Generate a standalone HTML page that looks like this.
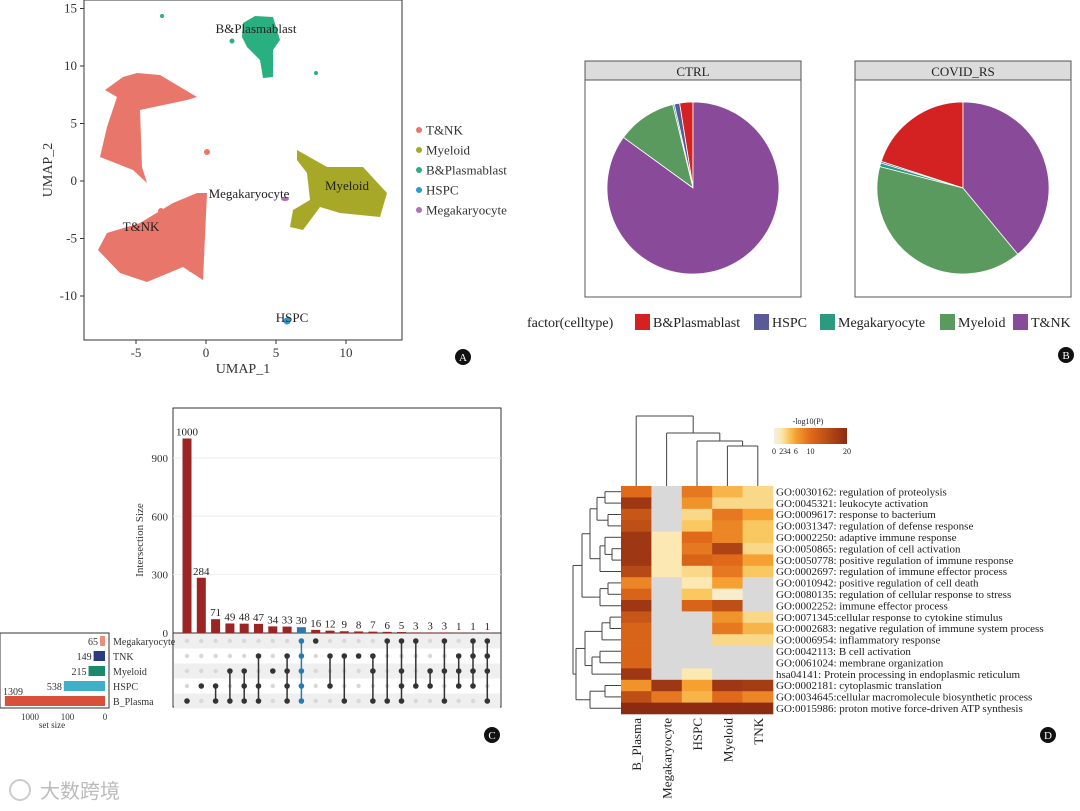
<!DOCTYPE html>
<html><head><meta charset="utf-8"><style>
body{margin:0;background:#fff;}
svg{display:block;font-family:"Liberation Serif","Noto Serif CJK SC",serif;}
</style></head><body>
<svg id="fig" width="1080" height="811" viewBox="0 0 1080 811">
<!-- PANEL A -->
<g>
<rect x="84" y="0" width="318" height="340" fill="none" stroke="#333" stroke-width="1"/>
<path d="M137 73 L160 75 L197 97 L187 100 L140 110 L142 167 L147 183 L133 170 L100 157 L107 127 L117 97 L105 90 L123 77 Z" fill="#e8766a"/>
<path d="M207 193 L203 280 L183 267 L147 282 L120 273 L98 250 L107 233 L140 223 L173 203 L197 193 Z" fill="#e8766a"/>
<path d="M297 150 L327 167 L363 167 L387 193 L380 217 L340 213 L320 207 L303 230 L290 227 L293 210 L310 200 L307 173 L297 160 Z" fill="#a8a828"/>
<path d="M243 23 L255 16 L273 17 L280 40 L273 50 L273 77 L263 78 L260 60 L247 47 L242 37 Z" fill="#2ab080"/>
<circle cx="287" cy="321" r="3.5" fill="#2a9ad0"/>
<ellipse cx="285" cy="199" rx="4" ry="2" fill="#b070b8"/>
<circle cx="207" cy="152" r="3" fill="#e8766a"/><circle cx="191" cy="269" r="3" fill="#e8766a"/><circle cx="161" cy="211" r="3" fill="#e8766a"/>
<circle cx="162" cy="16" r="2" fill="#2ab080"/><circle cx="232" cy="41" r="2.5" fill="#2ab080"/><circle cx="316" cy="73" r="2" fill="#2ab080"/>
<g font-size="13" fill="#222">
<text x="256" y="33" text-anchor="middle">B&amp;Plasmablast</text>
<text x="347" y="190" text-anchor="middle">Myeloid</text>
<text x="249" y="198" text-anchor="middle">Megakaryocyte</text>
<text x="141" y="231" text-anchor="middle">T&amp;NK</text>
<text x="292" y="322" text-anchor="middle">HSPC</text>
</g>
<g id="umapAxes" font-size="13" fill="#333"></g>
<text x="243" y="373" font-size="14" text-anchor="middle" fill="#333">UMAP_1</text>
<text x="0" y="0" font-size="14" text-anchor="middle" fill="#333" transform="translate(52,170) rotate(-90)">UMAP_2</text>
<g id="umapLegend" font-size="13" fill="#333"></g>
<circle cx="463" cy="357" r="8" fill="#111"/><text x="463" y="361" fill="#fff" font-size="11" text-anchor="middle">A</text>
</g>
<g id="pies"></g>
<g id="upset"></g>
<g id="heat"></g>
<text x="40" y="798" font-size="20" fill="#bbb" font-family="'Liberation Sans','Noto Sans CJK SC',sans-serif">大数跨境</text>
<circle cx="20" cy="790" r="10" fill="none" stroke="#ccc" stroke-width="2"/>
</svg>
<script>
const NS='http://www.w3.org/2000/svg';
function el(tag,attrs,parent,txt){const e=document.createElementNS(NS,tag);for(const k in attrs)e.setAttribute(k,attrs[k]);if(txt!==undefined)e.textContent=txt;parent.appendChild(e);return e;}

// ---------- Panel A axes ----------
const umapXTicks=[-5,0,5,10];
const umapYTicks=[15,10,5,0,-5,-10];
const umapLegendNames=['T&NK','Myeloid','B&Plasmablast','HSPC','Megakaryocyte'];
const umapLegendColors=['#e8766a','#a8a828','#2ab080','#2a9ad0','#b070b8'];
const ux=v=>206+14*v, uy=v=>181-11.5*v;
const ua=document.getElementById('umapAxes');
umapXTicks.forEach(t=>{el('line',{x1:ux(t),x2:ux(t),y1:340,y2:344,stroke:'#333'},ua);
 const tx=el('text',{x:ux(t),y:357,'text-anchor':'middle'},ua,String(t));
 
 });
umapYTicks.forEach(t=>{el('line',{x1:80,x2:84,y1:uy(t),y2:uy(t),stroke:'#333'},ua);
 const tx=el('text',{x:77,y:uy(t)+4,'text-anchor':'end'},ua,String(t));
 
 });
const ul=document.getElementById('umapLegend');
umapLegendNames.forEach((n,i)=>{const g=el('g',{},ul);
 
 
 el('circle',{cx:419,cy:130+20*i,r:3,fill:umapLegendColors[i]},g);
 el('text',{x:426,y:134.5+20*i},g,n);});

// ---------- Panel B pies ----------
const pieCats=['B&Plasmablast','HSPC','Megakaryocyte','Myeloid','T&NK'];
const pieColors=['#d42222','#5a5a96','#2a9a80','#5a9a5e','#8a4a9a'];
const ctrlVals=[2.5,1.0,0.3,11.2,85.0];
const covidVals=[20.0,0.3,0.7,40.0,39.0];
const pg=document.getElementById('pies');
function pie(cx,title,vals,name){
 const bx=cx-108;
 const g=el('g',{},pg);
 
 
 el('rect',{x:bx,y:80,width:216,height:217,fill:'#fff',stroke:'#555'},g);
 el('rect',{x:bx,y:61,width:216,height:19,fill:'#dcdcdc',stroke:'#555'},g);
 el('text',{x:cx,y:76,'text-anchor':'middle','font-size':13,fill:'#222'},g,title);
 const tot=vals.reduce((a,b)=>a+b,0); const cy=188,r=86; let a=0;
 vals.forEach((v,i)=>{const a0=a,a1=a+v/tot*2*Math.PI; a=a1;
  const p0=[cx-r*Math.sin(a0),cy-r*Math.cos(a0)],p1=[cx-r*Math.sin(a1),cy-r*Math.cos(a1)];
  const large=(a1-a0)>Math.PI?1:0;
  const s=el('path',{d:`M${cx} ${cy} L${p0[0]} ${p0[1]} A${r} ${r} 0 ${large} 0 ${p1[0]} ${p1[1]} Z`,fill:pieColors[i],stroke:'#fff','stroke-width':0.8},g);
  
  });
}
pie(693,'CTRL',ctrlVals,'pie-ctrl');
pie(963,'COVID_RS',covidVals,'pie-covid-rs');
const lgB=el('g',{'font-size':14,fill:'#222'},pg);


el('text',{x:527,y:327},lgB,'factor(celltype)');
const lgX=[635,754,820,940,1013];
pieCats.forEach((c,i)=>{el('rect',{x:lgX[i],y:314,width:15,height:16,fill:pieColors[i]},lgB);
 el('text',{x:lgX[i]+18,y:327},lgB,c);});
el('circle',{cx:1066,cy:355,r:8,fill:'#111'},pg);el('text',{x:1066,y:359,fill:'#fff','font-size':11,'text-anchor':'middle'},pg,'B');

// ---------- Panel C upset ----------
const intersectionSizes=[1000,284,71,49,48,47,34,33,30,16,12,9,8,7,6,5,3,3,3,1,1,1];
const intersectionSets=[[4],[3],[3,4],[2,4],[2,3,4],[1,3,4],[2],[1,2,3,4],[0,1,2,3,4],[0],[1,3],[1,4],[1],[1,2,4],[0,4],[0,2,3,4],[0,3],[2,3],[0,2,4],[1,2,3],[0,1,2,3],[0,1,2,4]];
const setNames=['Megakaryocyte','TNK','Myeloid','HSPC','B_Plasma'];
const setSizes=[65,149,215,538,1309];
const setColors=['#e8907a','#2a3a80','#1a8a6a','#40b0c8','#d8503a'];
const yTicksC=[0,300,600,900];
const setTicks=[1000,100,0];
const highlightIdx=8;
const ug=document.getElementById('upset');
const cy0=633, cyS=v=>cy0-v*0.1945, cxS=i=>187+i*14.3, rowY=j=>641+j*15;
el('rect',{x:173,y:408,width:328,height:299,fill:'none',stroke:'#333'},ug);
for(let j=0;j<5;j++){ if(j%2==0) el('rect',{x:174,y:rowY(j)-7.5,width:326,height:15,fill:'#efefef'},ug);}
yTicksC.forEach(t=>{el('line',{x1:173,x2:501,y1:cyS(t),y2:cyS(t),stroke:'#eee'},ug);
 const tx=el('text',{x:168,y:cyS(t)+4,'text-anchor':'end','font-size':11,fill:'#333'},ug,String(t));
 
 });
el('line',{x1:173,x2:501,y1:cy0,y2:cy0,stroke:'#333'},ug);
el('text',{x:0,y:0,'font-size':11,fill:'#333','text-anchor':'middle',transform:'translate(143,540) rotate(-90)'},ug,'Intersection Size');
intersectionSizes.forEach((v,i)=>{const col=i===highlightIdx?'#2a7ab0':'#9b2424';
 const b=el('rect',{x:cxS(i)-4.5,y:cyS(v),width:9,height:cy0-cyS(v),fill:col},ug);
 
 
 el('text',{x:cxS(i),y:cyS(v)-3,'text-anchor':'middle','font-size':11,fill:'#222'},ug,String(v));
 for(let j=0;j<5;j++){ if(!intersectionSets[i].includes(j)) el('circle',{cx:cxS(i),cy:rowY(j),r:2.2,fill:'#d8d8d8'},ug);}
 const s=intersectionSets[i]; const dc=i===highlightIdx?'#2a7ab0':'#333';
 el('line',{x1:cxS(i),x2:cxS(i),y1:rowY(Math.min(...s)),y2:rowY(Math.max(...s)),stroke:dc,'stroke-width':1.5},ug);
 s.forEach(j=>{const d=el('circle',{cx:cxS(i),cy:rowY(j),r:2.8,fill:dc},ug);
  
  });
});
el('rect',{x:0,y:633,width:109,height:75,fill:'none',stroke:'#333'},ug);
const sx=v=>105-v*0.0765;
setNames.forEach((n,j)=>{const b=el('rect',{x:sx(setSizes[j]),y:rowY(j)-5,width:105-sx(setSizes[j]),height:10,fill:setColors[j]},ug);
 
 
 el('text',{x:j===4?3:sx(setSizes[j])-2,y:j===4?rowY(j)-6:rowY(j)+4,'text-anchor':j===4?'start':'end','font-size':10,fill:'#333'},ug,String(setSizes[j]));
 el('text',{x:113,y:rowY(j)+4,'font-size':10,fill:'#333'},ug,n);});
setTicks.forEach((t,k)=>{el('text',{x:30+k*37.5,y:720,'text-anchor':'middle','font-size':9,fill:'#333'},ug,String(t));});
el('text',{x:52,y:728,'text-anchor':'middle','font-size':9,fill:'#333'},ug,'set size');
el('circle',{cx:492,cy:735,r:8,fill:'#111'},ug);el('text',{x:492,y:739,fill:'#fff','font-size':11,'text-anchor':'middle'},ug,'C');

// ---------- Panel D heatmap ----------
const heatCols=['B_Plasma','Megakaryocyte','HSPC','Myeloid','TNK'];
const heatRows=['GO:0030162: regulation of proteolysis','GO:0045321: leukocyte activation','GO:0009617: response to bacterium','GO:0031347: regulation of defense response','GO:0002250: adaptive immune response','GO:0050865: regulation of cell activation','GO:0050778: positive regulation of immune response','GO:0002697: regulation of immune effector process','GO:0010942: positive regulation of cell death','GO:0080135: regulation of cellular response to stress','GO:0002252: immune effector process','GO:0071345:cellular response to cytokine stimulus','GO:0002683: negative regulation of immune system process','GO:0006954: inflammatory response','GO:0042113: B cell activation','GO:0061024: membrane organization','hsa04141: Protein processing in endoplasmic reticulum','GO:0002181: cytoplasmic translation','GO:0034645:cellular macromolecule biosynthetic process','GO:0015986: proton motive force-driven ATP synthesis'];
const N=null;
const heatVals=[[10,N,9,5,3],[18,N,7,3,3],[13,N,3,9,6],[14,N,4,8,4],[18,2,10,8,4],[18,2,9,16,3],[18,2,11,10,6],[15,2,3,9,4],[8,N,2,6,N],[11,N,4,1,N],[18,N,11,14,N],[13,N,N,7,3],[11,N,N,9,5],[11,N,N,3,3],[11,N,N,N,N],[11,N,N,N,N],[18,N,2,N,N],[7,18,6,18,17],[14,9,5,10,8],[20,20,20,20,20]];
const legendTicks=[0,2,3,4,6,10,20];
const stops=[[0,[243,239,227]],[2,[251,232,178]],[4,[249,200,96]],[6,[245,160,48]],[10,[224,106,26]],[20,[140,42,18]]];
function color(v){if(v===null)return '#d9d9d9';for(let k=1;k<stops.length;k++){if(v<=stops[k][0]){const[a,ca]=stops[k-1],[b,cb]=stops[k];const t=(v-a)/(b-a);return 'rgb('+ca.map((c,m)=>Math.round(c+(cb[m]-c)*t)).join(',')+')';}}return 'rgb(140,42,18)';}
const hg=document.getElementById('heat');
const hx0=621,cw=30.4,hy0=486,rh=11.4;
heatVals.forEach((row,r)=>{row.forEach((v,c)=>{const cell=el('rect',{x:hx0+c*cw,y:hy0+r*rh,width:cw+0.3,height:rh+0.3,fill:color(v)},hg);
 
 });
 const t=el('text',{x:776,y:hy0+r*rh+rh-2,'font-size':11,fill:'#222'},hg,heatRows[r]);
 
 });
heatCols.forEach((c,i)=>{const t=el('text',{x:0,y:0,'font-size':13,fill:'#222','text-anchor':'end',transform:`translate(${hx0+(i+0.5)*cw+5},718) rotate(-90)`},hg,c);
 
 });
const cxh=i=>hx0+(i+0.5)*cw; const dl=(a,b,c,d)=>el('line',{x1:a,y1:b,x2:c,y2:d,stroke:'#444','stroke-width':1},hg);
dl(cxh(3),446,cxh(4),446);dl(cxh(3),446,cxh(3),486);dl(cxh(4),446,cxh(4),486);
const m34=(cxh(3)+cxh(4))/2; dl(cxh(2),441,m34,441);dl(cxh(2),441,cxh(2),486);dl(m34,441,m34,446);
const m234=(cxh(2)+m34)/2; dl(cxh(1),433,m234,433);dl(cxh(1),433,cxh(1),486);dl(m234,433,m234,441);
const m1=(cxh(1)+m234)/2; dl(cxh(0),416,m1,416);dl(cxh(0),416,cxh(0),486);dl(m1,416,m1,433);
const ry=r=>hy0+(r+0.5)*rh;
function node(l,r,x){return {l,r,x};}
const tree=node(node(node(node(node(0,1,605),node(2,3,608),597),node(node(4,node(5,6,612),605),7,600),590),node(node(8,9,608),10,600),582),node(node(node(node(11,12,610),13,602),node(node(14,15,600),16,592),585),node(node(17,18,605),19,590),576),573);
function draw(n){if(typeof n==='number')return {y:ry(n),x:621};const a=draw(n.l),b=draw(n.r);dl(n.x,a.y,n.x,b.y);dl(n.x,a.y,a.x,a.y);dl(n.x,b.y,b.x,b.y);return {y:(a.y+b.y)/2,x:n.x};}
draw(tree);
const grad=el('linearGradient',{id:'hg'},el('defs',{},hg));
stops.forEach(s=>el('stop',{offset:(s[0]/20*100)+'%','stop-color':'rgb('+s[1].join(',')+')'},grad));
const lb=el('rect',{x:774,y:428,width:73,height:16,fill:'url(#hg)'},hg);


el('text',{x:808,y:424,'font-size':8,fill:'#222','text-anchor':'middle'},hg,'-log10(P)');
legendTicks.forEach(t=>el('text',{x:774+t/20*73,y:454,'font-size':8,fill:'#222','text-anchor':'middle'},hg,String(t)));
el('circle',{cx:1048,cy:735,r:8,fill:'#111'},hg);el('text',{x:1048,y:739,fill:'#fff','font-size':11,'text-anchor':'middle'},hg,'D');
</script>
</body></html>
